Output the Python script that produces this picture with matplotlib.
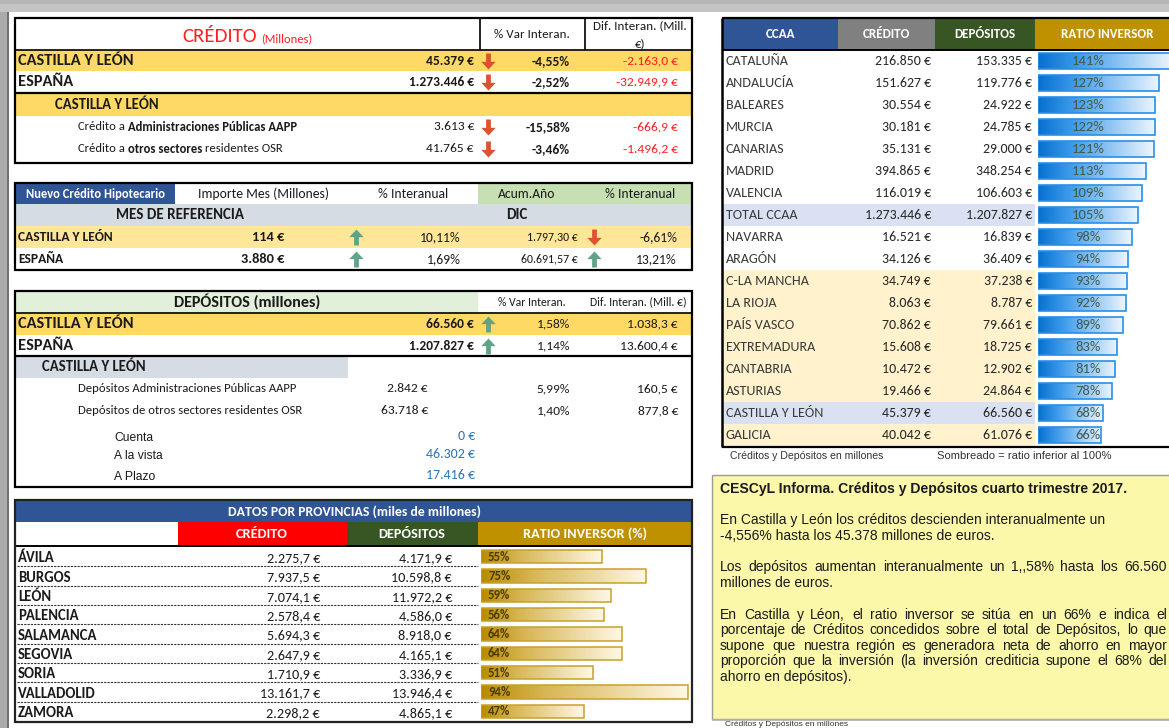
import numpy as np
import matplotlib
matplotlib.use("Agg")
import matplotlib.pyplot as plt
from matplotlib.patches import Rectangle
from matplotlib.path import Path
from matplotlib.colors import LinearSegmentedColormap

CAL = ['Carlito', 'Lato', 'DejaVu Sans']
ARI = ['Liberation Sans', 'Arimo', 'DejaVu Sans']
plt.rcParams['font.family'] = CAL

# ---------------- DATA ----------------
# Crédito (millones)
credito_rows = ["CASTILLA Y LEÓN", "ESPAÑA"]
credito_vals = [45379, 1273446]
credito_var = [-4.55, -2.52]
credito_dif = [-2163.0, -32949.9]
credito_sub_title = "CASTILLA Y LEÓN"
credito_sub_labels = [[("Crédito a", "normal"), ("Administraciones Públicas AAPP", "bold")],
                      [("Crédito a", "normal"), ("otros sectores", "bold"), ("residentes OSR", "normal")]]
credito_sub_vals = [3613, 41765]
credito_sub_var = [-15.58, -3.46]
credito_sub_dif = [-666.9, -1496.2]

# Nuevo crédito hipotecario
hipo_headers = ["Nuevo Crédito Hipotecario", "Importe Mes (Millones)", "% Interanual", "Acum.Año", "% Interanual"]
hipo_mes = "DIC"
hipo_rows = ["CASTILLA Y LEÓN", "ESPAÑA"]
hipo_importe = [114, 3880]
hipo_var_mes = [10.11, 1.69]
hipo_acum = [1797.30, 60691.57]
hipo_var_acum = [-6.61, 13.21]

# Depósitos (millones)
dep_rows = ["CASTILLA Y LEÓN", "ESPAÑA"]
dep_vals = [66560, 1207827]
dep_var = [1.58, 1.14]
dep_dif = [1038.3, 13600.4]
dep_sub_title = "CASTILLA Y LEÓN"
dep_sub_labels = ["Depósitos Administraciones Públicas AAPP", "Depósitos de otros sectores residentes OSR"]
dep_sub_vals = [2842, 63718]
dep_sub_var = [5.99, 1.40]
dep_sub_dif = [160.5, 877.8]
dep_tipo_labels = ["Cuenta", "A la vista", "A Plazo"]
dep_tipo_vals = [0, 46302, 17416]

# Datos por provincias (miles de millones)
provincias = ["ÁVILA", "BURGOS", "LEÓN", "PALENCIA", "SALAMANCA", "SEGOVIA", "SORIA", "VALLADOLID", "ZAMORA"]
prov_credito = [2275.7, 7937.5, 7074.1, 2578.4, 5694.3, 2647.9, 1710.9, 13161.7, 2298.2]
prov_depositos = [4171.9, 10598.8, 11972.2, 4586.0, 8918.0, 4165.1, 3336.9, 13946.4, 4865.1]
prov_ratio = [55, 75, 59, 56, 64, 64, 51, 94, 47]

# CCAA (millones)
ccaa = ["CATALUÑA", "ANDALUCÍA", "BALEARES", "MURCIA", "CANARIAS", "MADRID", "VALENCIA", "TOTAL CCAA",
        "NAVARRA", "ARAGÓN", "C-LA MANCHA", "LA RIOJA", "PAÍS VASCO", "EXTREMADURA", "CANTABRIA",
        "ASTURIAS", "CASTILLA Y LEÓN", "GALICIA"]
ccaa_credito = [216850, 151627, 30554, 30181, 35131, 394865, 116019, 1273446, 16521, 34126, 34749,
                8063, 70862, 15608, 10472, 19466, 45379, 40042]
ccaa_depositos = [153335, 119776, 24922, 24785, 29000, 348254, 106603, 1207827, 16839, 36409, 37238,
                  8787, 79661, 18725, 12902, 24864, 66560, 61076]
ccaa_ratio = [141, 127, 123, 122, 121, 113, 109, 105, 98, 94, 93, 92, 89, 83, 81, 78, 68, 66]
ccaa_blue_rows = ["TOTAL CCAA", "CASTILLA Y LEÓN"]
ccaa_cream_rows = ["C-LA MANCHA", "LA RIOJA", "PAÍS VASCO", "EXTREMADURA", "CANTABRIA", "ASTURIAS", "GALICIA"]

nota_1 = "Créditos y Depósitos en millones"
nota_2 = "Sombreado = ratio inferior al 100%"

informe_titulo = "CESCyL Informa. Créditos y Depósitos cuarto trimestre 2017."
informe_lineas = [
    ("En Castilla y León los créditos descienden interanualmente un", False),
    ("-4,556% hasta los 45.378 millones de euros.", False),
    ("Los depósitos aumentan interanualmente un 1,,58% hasta los 66.560", True),
    ("millones de euros.", False),
    ("En Castilla y Léon, el ratio inversor se sitúa en un 66% e indica el", True),
    ("porcentaje de Créditos concedidos sobre el total de Depósitos, lo que", True),
    ("supone que nuestra región es generadora neta de ahorro en mayor", True),
    ("proporción que la inversión (la inversión crediticia supone el 68% del", True),
    ("ahorro en depósitos).", False),
]

# ---------------- HELPERS ----------------
W, H = 1169, 728
fig = plt.figure(figsize=(W / 100, H / 100), dpi=100)
ax = fig.add_axes([0, 0, 1, 1])
ax.set_xlim(0, W)
ax.set_ylim(H, 0)
ax.axis('off')
R = fig.canvas.get_renderer()

TXT = '#1a1a1a'
RED = '#FF1F1F'
ARR_RED = '#DD5230'
ARR_GREEN = '#5FA488'
YEL = '#FFD966'
YEL2 = '#FFE699'
GRAYBLUE = '#D6DCE4'
BLUE = '#2F5597'
DKGREEN = '#375623'
GOLD = '#BF9000'
LBLUE = '#2E75B6'


def es(v, dec=0):
    s = f"{abs(v):,.{dec}f}".replace(',', 'X').replace('.', ',').replace('X', '.')
    return ('-' if v < 0 else '') + s


def eur(v, dec=0):
    return es(v, dec) + " €"


def pct(v, dec=2):
    return es(v, dec) + "%"


def rect(x0, y0, x1, y1, fc='none', ec='none', lw=0, z=1):
    ax.add_patch(Rectangle((x0, y0), x1 - x0, y1 - y0, facecolor=fc, edgecolor=ec, linewidth=lw, zorder=z))


def hline(y, x0, x1, lw=1.0, c='black', ls='-', z=4):
    ax.plot([x0, x1], [y, y], color=c, lw=lw, ls=ls, zorder=z, solid_capstyle='butt', dash_capstyle='butt')


def vline(x, y0, y1, lw=1.0, c='black', z=4):
    ax.plot([x, x], [y0, y1], color=c, lw=lw, zorder=z, solid_capstyle='butt')


def txt(x, y, s, size=9, ha='left', va='center', weight='normal', color=TXT, family=None, z=6):
    return ax.text(x, y, s, fontsize=size, ha=ha, va=va, fontweight=weight, color=color,
                   family=family if family else CAL, zorder=z)


def chain(x, y, parts, size, color=TXT, family=None, space_em=0.226):
    for s, wt in parts:
        t = txt(x, y, s, size=size, weight=wt, color=color, family=family)
        x += t.get_window_extent(R).width + space_em * size * 100 / 72


def justify(x0, x1, y, line, size, family, color=TXT):
    words = line.split()
    ts = [txt(0, y, w, size=size, family=family, color=color) for w in words]
    widths = [t.get_window_extent(R).width for t in ts]
    gap = (x1 - x0 - sum(widths)) / (len(words) - 1)
    x = x0
    for t, wd in zip(ts, widths):
        t.set_x(x)
        x += wd + gap


v_down = [(-0.15, 0.5), (0.15, 0.5), (0.15, -0.02), (0.45, -0.02), (0.0, -0.5), (-0.45, -0.02),
          (-0.15, -0.02), (-0.15, 0.5)]
DOWN = Path(v_down, [Path.MOVETO] + [Path.LINETO] * 6 + [Path.CLOSEPOLY])
UP = Path([(a, -b) for a, b in v_down], [Path.MOVETO] + [Path.LINETO] * 6 + [Path.CLOSEPOLY])


def arrow(x, y, value):
    up = value >= 0
    ax.plot([x], [y], marker=UP if up else DOWN, ms=11.5, color=ARR_GREEN if up else ARR_RED,
            mec='none', zorder=7, linestyle='none')


def gradient_bars(bax, bars, colors, ec, lw):
    cmap = LinearSegmentedColormap.from_list('g', colors)
    grad = np.linspace(0, 1, 256).reshape(1, -1)
    for b in bars:
        x, y, w, h = b.get_x(), b.get_y(), b.get_width(), b.get_height()
        im = bax.imshow(grad, extent=[x, x + w, y + h, y], cmap=cmap, aspect='auto',
                        interpolation='bilinear', zorder=1)
        im.set_clip_path(b)
        b.set_facecolor('none')
        b.set_edgecolor(ec)
        b.set_linewidth(lw)
        b.set_zorder(2)


def bar_axes(x0, y0, x1, y1):
    return fig.add_axes([x0 / W, 1 - y1 / H, (x1 - x0) / W, (y1 - y0) / H])


# ---------------- BACKGROUND ----------------
rect(0, 0, W, 12, fc='#C4C4C4', z=0)
rect(0, 0, W, 4, fc='#B6B6B6', z=0)
rect(0, 12, 7, H, fc='#ABABAB', z=0)
vline(7.5, 12, H, lw=1.2, c='#555555', z=1)

# ---------------- CRÉDITO TABLE ----------------
X0, X1 = 15, 692
VS = 9.7
rect(X0, 50, X1, 71, fc=YEL)
rect(X0, 93, X1, 116, fc=YEL)
vline(480, 18, 50, lw=1.2)
vline(585, 18, 50, lw=1.2)
hline(50, X0, X1, lw=1.2)
hline(93, X0, X1, lw=1.6)
rect(X0, 18, X1, 163, ec='black', lw=1.6, z=5)
t = txt(182, 42, "CRÉDITO", size=15, va='baseline', color=RED)
txt(182 + t.get_window_extent(R).width + 4, 42, "(Millones)", size=9, va='baseline', color=RED)
txt(532, 34, "% Var Interan.", size=9.4, ha='center')
txt(640, 26, "Dif. Interan. (Mill.", size=9.4, ha='center')
txt(640, 44, "€)", size=9.4, ha='center')
row_y = [61, 82]
for i, name in enumerate(credito_rows):
    y = row_y[i]
    txt(18, y, name, size=11.8, weight='bold')
    txt(474, y, eur(credito_vals[i]), size=VS, ha='right', weight='bold')
    arrow(488, y, credito_var[i])
    txt(570, y, pct(credito_var[i]), size=VS, ha='right', weight='bold')
    txt(678, y, eur(credito_dif[i], 1), size=VS, ha='right', color=RED)
txt(55, 105, credito_sub_title, size=10.6, weight='bold')
sub_y = [127, 149]
for i, parts in enumerate(credito_sub_labels):
    y = sub_y[i]
    chain(78, y, parts, size=9.1)
    txt(474, y, eur(credito_sub_vals[i]), size=VS, ha='right')
    arrow(488, y, credito_sub_var[i])
    txt(570, y, pct(credito_sub_var[i]), size=VS, ha='right', weight='bold')
    txt(678, y, eur(credito_sub_dif[i], 1), size=VS, ha='right', color=RED)

# ---------------- HIPOTECARIO TABLE ----------------
rect(X0, 183, 175, 204, fc=BLUE)
rect(478, 183, X1, 204, fc='#C6E0B4')
rect(X0, 204, X1, 226, fc=GRAYBLUE)
rect(X0, 226, X1, 248, fc=YEL2)
rect(X0, 183, X1, 270, ec='black', lw=1.6, z=5)
txt(96, 193.5, hipo_headers[0], size=9, ha='center', weight='bold', color='white')
for xc, s in zip([263, 413, 527, 640], hipo_headers[1:]):
    txt(xc, 193.5, s, size=9.8, ha='center')
txt(180, 215, "MES DE REFERENCIA", size=10.8, ha='center', weight='bold')
txt(517, 215, hipo_mes, size=10.8, ha='center', weight='bold')
for i, name in enumerate(hipo_rows):
    y = [237, 259][i]
    txt(18, y, name, size=9.7, weight='bold')
    txt(284, y, eur(hipo_importe[i]), size=10.4, ha='right', weight='bold')
    arrow(356, y, hipo_var_mes[i])
    txt(461, y, pct(hipo_var_mes[i]), size=9.8, ha='right')
    txt(578, y, eur(hipo_acum[i], 2), size=8.6, ha='right')
    arrow(594, y, hipo_var_acum[i])
    txt(677, y, pct(hipo_var_acum[i]), size=9.8, ha='right')

# ---------------- DEPÓSITOS TABLE ----------------
rect(X0, 291, 478, 313, fc='#E2EFDA')
rect(X0, 313, X1, 335, fc=YEL)
rect(X0, 356, 348, 378, fc=GRAYBLUE)
hline(313, X0, X1, lw=1.2)
hline(356, X0, X1, lw=1.6)
rect(X0, 291, X1, 487, ec='black', lw=1.6, z=5)
txt(247, 302, "DEPÓSITOS (millones)", size=11.6, ha='center', weight='bold')
txt(532, 302, "% Var Interan.", size=8.5, ha='center')
txt(638, 302, "Dif. Interan. (Mill. €)", size=8.5, ha='center')
for i, name in enumerate(dep_rows):
    y = [324, 346][i]
    txt(18, y, name, size=11.8, weight='bold')
    txt(474, y, eur(dep_vals[i]), size=VS, ha='right', weight='bold')
    arrow(488, y, dep_var[i])
    txt(570, y, pct(dep_var[i]), size=VS, ha='right')
    txt(678, y, eur(dep_dif[i], 1), size=VS, ha='right')
txt(42, 367, dep_sub_title, size=10.6, weight='bold')
for i, lab in enumerate(dep_sub_labels):
    y = [389, 411][i]
    txt(78, y, lab, size=9.1)
    txt(428, y, eur(dep_sub_vals[i]), size=VS, ha='right')
    txt(570, y, pct(dep_sub_var[i]), size=VS, ha='right')
    txt(678, y, eur(dep_sub_dif[i], 1), size=VS, ha='right')
for i, lab in enumerate(dep_tipo_labels):
    y = [438, 456, 477][i]
    txt(114, y, lab, size=8.7, family=ARI)
    txt(475, y - 2, eur(dep_tipo_vals[i]), size=10, ha='right', color=LBLUE)

# ---------------- PROVINCIAS TABLE ----------------
PY0, PY1 = 547, 721
rect(X0, 500, X1, 522, fc=BLUE)
rect(178, 522, 347, 545, fc='#FF0000')
rect(347, 522, 478, 545, fc=DKGREEN)
rect(478, 522, X1, 545, fc=GOLD)
hline(546, X0, X1, lw=1.4)
rect(X0, 500, X1, 722, ec='#222222', lw=1.6, z=5)
txt(355, 512, "DATOS POR PROVINCIAS (miles de millones)", size=9.9, ha='center', weight='bold', color='white')
txt(262, 534, "CRÉDITO", size=10.3, ha='center', weight='bold', color='white')
txt(412, 534, "DEPÓSITOS", size=10.3, ha='center', weight='bold', color='white')
txt(585, 534, "RATIO INVERSOR (%)", size=10.3, ha='center', weight='bold', color='white')
n = len(provincias)
rh = (PY1 - PY0) / n
for i, name in enumerate(provincias):
    top = PY0 + rh * i
    base = top + 15.2
    if i > 0:
        hline(top, 17, 478, lw=0.8, ls=(0, (2, 1)), c='#333333')
    txt(18, base, name, size=10.6, weight='bold', va='baseline')
    txt(320, base, eur(prov_credito[i], 1), size=10.2, ha='right', va='baseline')
    txt(452, base, eur(prov_depositos[i], 1), size=10.2, ha='right', va='baseline')
pax = bar_axes(481, PY0, 689, PY1)
pax.axis('off')
pax.patch.set_alpha(0)
pbars = pax.barh(np.arange(n), prov_ratio, height=0.7, left=0, align='center')
gradient_bars(pax, pbars, [(0, '#B88A00'), (0.3, '#D6B552'), (1, '#FFF8E6')], '#C9A02A', 1.1)
for i, v in enumerate(prov_ratio):
    pax.text(3.2, i, f"{v}%", fontsize=9.2, fontweight='bold', color='#4A3B00', va='center', ha='left',
             zorder=5, family=CAL)
pax.set_xlim(0, 94.5)
pax.set_ylim(n - 0.5, -0.5)

# ---------------- CCAA TABLE ----------------
CX0 = 722
CY0, CY1 = 50, 446
rect(CX0, 18, 838, 50, fc=BLUE)
rect(838, 18, 935, 50, fc='#808080')
rect(935, 18, 1035, 50, fc=DKGREEN)
rect(1035, 18, W, 50, fc=GOLD)
hline(18, CX0, W, lw=1.6)
hline(50, CX0, W, lw=1.4)
vline(CX0, 17.5, CY1 + 1, lw=1.8)
hline(CY1 + 1, CX0, W, lw=1.6)
for xc, s in zip([780, 886, 985, 1107], ["CCAA", "CRÉDITO", "DEPÓSITOS", "RATIO INVERSOR"]):
    txt(xc, 34, s, size=9.4, ha='center', weight='bold', color='white')
m = len(ccaa)
ch = (CY1 - CY0) / m
for i, name in enumerate(ccaa):
    y0 = CY0 + ch * i
    yc = y0 + ch / 2
    if name in ccaa_blue_rows:
        rect(CX0, y0, 1035, y0 + ch, fc='#D9E1F2')
    elif name in ccaa_cream_rows:
        rect(CX0, y0, 1035, y0 + ch, fc='#FFF2CC')
    txt(726, yc, name, size=10.2, color='#3a3a3a')
    txt(931, yc, eur(ccaa_credito[i]), size=10, ha='right', color='#262626')
    txt(1032, yc, eur(ccaa_depositos[i]), size=10, ha='right', color='#262626')
cax = bar_axes(1038, CY0, W, CY1)
cax.axis('off')
cax.patch.set_alpha(0)
cbars = cax.barh(np.arange(m), ccaa_ratio, height=0.72, align='center')
gradient_bars(cax, cbars, [(0, '#0670CF'), (0.3, '#3E9BEB'), (1, '#EEF6FE')], '#2A8FE8', 1.2)
for i, v in enumerate(ccaa_ratio):
    cax.text(52.4, i, f"{v}%", fontsize=10.5, color='#3F5B4E', va='center', ha='center', zorder=5, family=CAL)
cax.set_xlim(0, (W - 1038) / 0.955)
cax.set_ylim(m - 0.5, -0.5)

txt(730, 456, nota_1, size=7.6, family=ARI, color='#333333')
txt(937, 456, nota_2, size=8.1, family=ARI, color='#333333')

# ---------------- TEXT BOX ----------------
rect(712, 475, W + 2, 719, fc='#FBF8AA', ec='#9C9C90', lw=1.0, z=1)
hline(720, 712, W, lw=1.2, c='#B4B4A8', z=2)
txt(720, 489, informe_titulo, size=10.1, weight='bold', family=ARI)
line_y = [520, 536, 567, 583, 615, 630, 646, 661, 677]
for (line, just), y in zip(informe_lineas, line_y):
    if just:
        justify(720, 1167, y, line, 10, ARI)
    else:
        txt(720, y, line, size=10, family=ARI)

txt(725, 728, nota_1, size=6, family=ARI, color='#333333', va='bottom')

fig.savefig("out.png", dpi=100)
